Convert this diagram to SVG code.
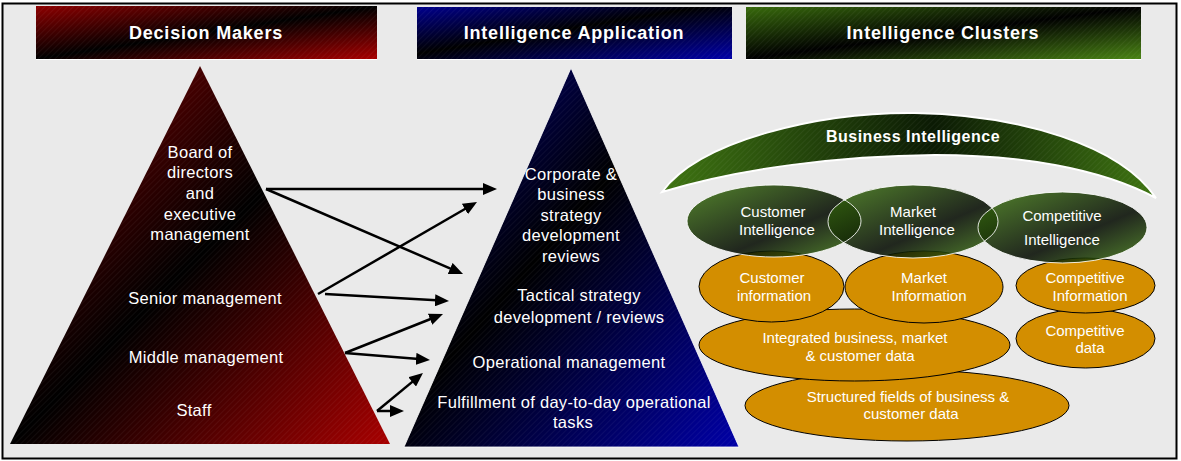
<svg xmlns="http://www.w3.org/2000/svg" width="1181" height="461" viewBox="0 0 1181 461">
  <defs>
    <linearGradient id="gRed" x1="0" y1="0" x2="1" y2="1">
      <stop offset="0" stop-color="#8e0000"/>
      <stop offset="0.5" stop-color="#000000"/>
      <stop offset="1" stop-color="#a80000"/>
    </linearGradient>
    <linearGradient id="gBlue" x1="0" y1="0" x2="1" y2="1">
      <stop offset="0" stop-color="#00008e"/>
      <stop offset="0.45" stop-color="#000000"/>
      <stop offset="1" stop-color="#0000a8"/>
    </linearGradient>
    <linearGradient id="gGreen" x1="0" y1="0" x2="1" y2="1">
      <stop offset="0" stop-color="#386a0c"/>
      <stop offset="0.5" stop-color="#000000"/>
      <stop offset="1" stop-color="#4a8414"/>
    </linearGradient>
    <linearGradient id="gArc" x1="0" y1="0" x2="1" y2="0">
      <stop offset="0" stop-color="#3f7512"/>
      <stop offset="0.55" stop-color="#0b1a04"/>
      <stop offset="1" stop-color="#3f7512"/>
    </linearGradient>
    <linearGradient id="gEll" x1="0" y1="0" x2="1" y2="1">
      <stop offset="0" stop-color="#3d7411"/>
      <stop offset="0.6" stop-color="#050c02"/>
      <stop offset="1" stop-color="#3d7411"/>
    </linearGradient>
    <pattern id="hatch" width="4" height="4" patternUnits="userSpaceOnUse" patternTransform="rotate(45)">
      <line x1="0" y1="0" x2="0" y2="4" stroke="#ffffff" stroke-width="0.8" stroke-opacity="0.12"/>
    </pattern>
    <marker id="arr" markerUnits="userSpaceOnUse" markerWidth="14" markerHeight="12" viewBox="0 0 14 12" refX="6" refY="6" orient="auto">
      <path d="M0,0 L14,6 L0,12 z" fill="#000"/>
    </marker>
    <style>
      .hdr { font-family: "Liberation Sans", Arial, sans-serif; font-weight: bold; font-size: 18px; fill: #fff; text-anchor: middle; letter-spacing: 0.8px; }
      .tri { font-family: "Liberation Sans", Arial, sans-serif; font-size: 16.5px; fill: #fff; text-anchor: middle; letter-spacing: 0.3px; }
      .el { font-family: "Liberation Sans", Arial, sans-serif; font-size: 15px; fill: #fff; text-anchor: middle; }
      .bi { font-family: "Liberation Sans", Arial, sans-serif; font-weight: bold; font-size: 16px; fill: #fff; text-anchor: middle; letter-spacing: 0.5px; }
      .org { fill: #d38e00; stroke: #000; stroke-width: 1; }
      .conn line { stroke: #000; stroke-width: 2.5; marker-end: url(#arr); }
    </style>
  </defs>

  <rect x="2.5" y="3.5" width="1174" height="455" fill="#eaeaea" stroke="#000" stroke-width="2"/>

  <g id="hdr-decision">
    <rect x="36" y="6" width="341" height="53" fill="url(#gRed)"/>
    <rect x="36" y="6" width="341" height="53" fill="url(#hatch)"/>
    <line x1="36" y1="59.5" x2="377" y2="59.5" stroke="#fff" stroke-width="1"/>
    <text class="hdr" x="206" y="39">Decision Makers</text>
  </g>
  <g id="hdr-application">
    <rect x="417" y="7" width="315" height="52" fill="url(#gBlue)"/>
    <rect x="417" y="7" width="315" height="52" fill="url(#hatch)"/>
    <line x1="417" y1="59.5" x2="732" y2="59.5" stroke="#fff" stroke-width="1"/>
    <text class="hdr" x="574" y="39">Intelligence Application</text>
  </g>
  <g id="hdr-clusters">
    <rect x="746" y="7" width="395" height="52" fill="url(#gGreen)"/>
    <rect x="746" y="7" width="395" height="52" fill="url(#hatch)"/>
    <line x1="746" y1="59.5" x2="1141" y2="59.5" stroke="#fff" stroke-width="1"/>
    <text class="hdr" x="943" y="39">Intelligence Clusters</text>
  </g>

  <g id="decision-pyramid">
    <polygon points="200,66 390,444 10,444" fill="url(#gRed)"/>
    <polygon points="200,66 390,444 10,444" fill="url(#hatch)"/>
    <text class="tri" x="200" y="158">Board of</text>
    <text class="tri" x="200" y="178">directors</text>
    <text class="tri" x="200" y="199">and</text>
    <text class="tri" x="200" y="220">executive</text>
    <text class="tri" x="200" y="240">management</text>
    <text class="tri" x="205" y="304">Senior management</text>
    <text class="tri" x="206" y="363">Middle management</text>
    <text class="tri" x="194" y="416">Staff</text>
  </g>

  <g id="application-pyramid">
    <polygon points="571,68 739,447 404,447" fill="url(#gBlue)" stroke="#fff" stroke-width="0.8"/>
    <polygon points="571,68 739,447 404,447" fill="url(#hatch)"/>
    <text class="tri" x="571" y="180">Corporate &amp;</text>
    <text class="tri" x="571" y="200">business</text>
    <text class="tri" x="571" y="221">strategy</text>
    <text class="tri" x="571" y="241">development</text>
    <text class="tri" x="571" y="262">reviews</text>
    <text class="tri" x="579" y="301">Tactical strategy</text>
    <text class="tri" x="579" y="323">development / reviews</text>
    <text class="tri" x="569" y="368">Operational management</text>
    <text class="tri" x="574" y="408">Fulfillment of day-to-day operational</text>
    <text class="tri" x="573" y="428">tasks</text>
  </g>

  <g id="connectors" class="conn">
    <line x1="266" y1="189" x2="489" y2="189"/>
    <line x1="266" y1="189" x2="455.7" y2="270.8"/>
    <line x1="318" y1="294" x2="470.1" y2="206"/>
    <line x1="325" y1="294" x2="441" y2="300.6"/>
    <line x1="345" y1="353" x2="435.6" y2="317"/>
    <line x1="345" y1="353" x2="422" y2="359.3"/>
    <line x1="377" y1="411" x2="416.8" y2="378.1"/>
    <line x1="377" y1="411" x2="396" y2="411"/>
  </g>

  <g id="business-intelligence">
    <path d="M662,192 C700,140 820,112 915,113 C1020,115 1120,145 1156,198 C1100,168 1020,155 935,155 C840,156 740,168 662,192 Z" fill="url(#gArc)" stroke="#fff" stroke-width="2"/>
    <path d="M662,192 C700,140 820,112 915,113 C1020,115 1120,145 1156,198 C1100,168 1020,155 935,155 C840,156 740,168 662,192 Z" fill="url(#hatch)"/>
    <text class="bi" x="913" y="142">Business Intelligence</text>
  </g>

  <g id="structured-data">
    <ellipse class="org" cx="907" cy="405.5" rx="162" ry="35.5"/>
    <text class="el" x="908" y="402">Structured fields of business &amp;</text>
    <text class="el" x="911" y="419">customer data</text>
  </g>
  <g id="integrated-data">
    <ellipse class="org" cx="854.5" cy="345" rx="155.5" ry="36"/>
    <text class="el" x="855" y="343">Integrated  business, market</text>
    <text class="el" x="860" y="361">&amp; customer data</text>
  </g>
  <g id="customer-information">
    <ellipse class="org" cx="771.5" cy="286.5" rx="72.5" ry="35.5"/>
    <text class="el" x="772" y="283">Customer</text>
    <text class="el" x="774" y="301">information</text>
  </g>
  <g id="market-information">
    <ellipse class="org" cx="924" cy="287" rx="79" ry="36"/>
    <text class="el" x="924" y="283">Market</text>
    <text class="el" x="929" y="301">Information</text>
  </g>
  <g id="competitive-data">
    <ellipse class="org" cx="1085.5" cy="338.5" rx="69.5" ry="29.5"/>
    <text class="el" x="1085" y="336">Competitive</text>
    <text class="el" x="1090" y="353">data</text>
  </g>
  <g id="competitive-information">
    <ellipse class="org" cx="1085.5" cy="285.5" rx="69.5" ry="27.5"/>
    <text class="el" x="1085" y="283">Competitive</text>
    <text class="el" x="1090" y="301">Information</text>
  </g>

  <g id="customer-intelligence">
    <ellipse cx="774" cy="221" rx="87" ry="36" fill="url(#gEll)" fill-opacity="0.88"/>
  </g>
  <g id="market-intelligence">
    <ellipse cx="913" cy="221.5" rx="85" ry="36.5" fill="url(#gEll)" fill-opacity="0.88"/>
  </g>
  <g id="competitive-intelligence">
    <ellipse cx="1062.5" cy="227.5" rx="84.5" ry="35.5" fill="url(#gEll)" fill-opacity="0.88"/>
  </g>
  <g id="intelligence-outlines" fill="none" stroke="#ffffff" stroke-width="1" stroke-opacity="0.85">
    <ellipse cx="774" cy="221" rx="87" ry="36"/>
    <ellipse cx="913" cy="221.5" rx="85" ry="36.5"/>
    <ellipse cx="1062.5" cy="227.5" rx="84.5" ry="35.5"/>
  </g>
  <g id="intelligence-labels">
    <text class="el" x="773" y="217">Customer</text>
    <text class="el" x="777" y="235">Intelligence</text>
    <text class="el" x="913" y="217">Market</text>
    <text class="el" x="917" y="235">Intelligence</text>
    <text class="el" x="1062" y="221">Competitive</text>
    <text class="el" x="1062" y="245">Intelligence</text>
  </g>
</svg>
